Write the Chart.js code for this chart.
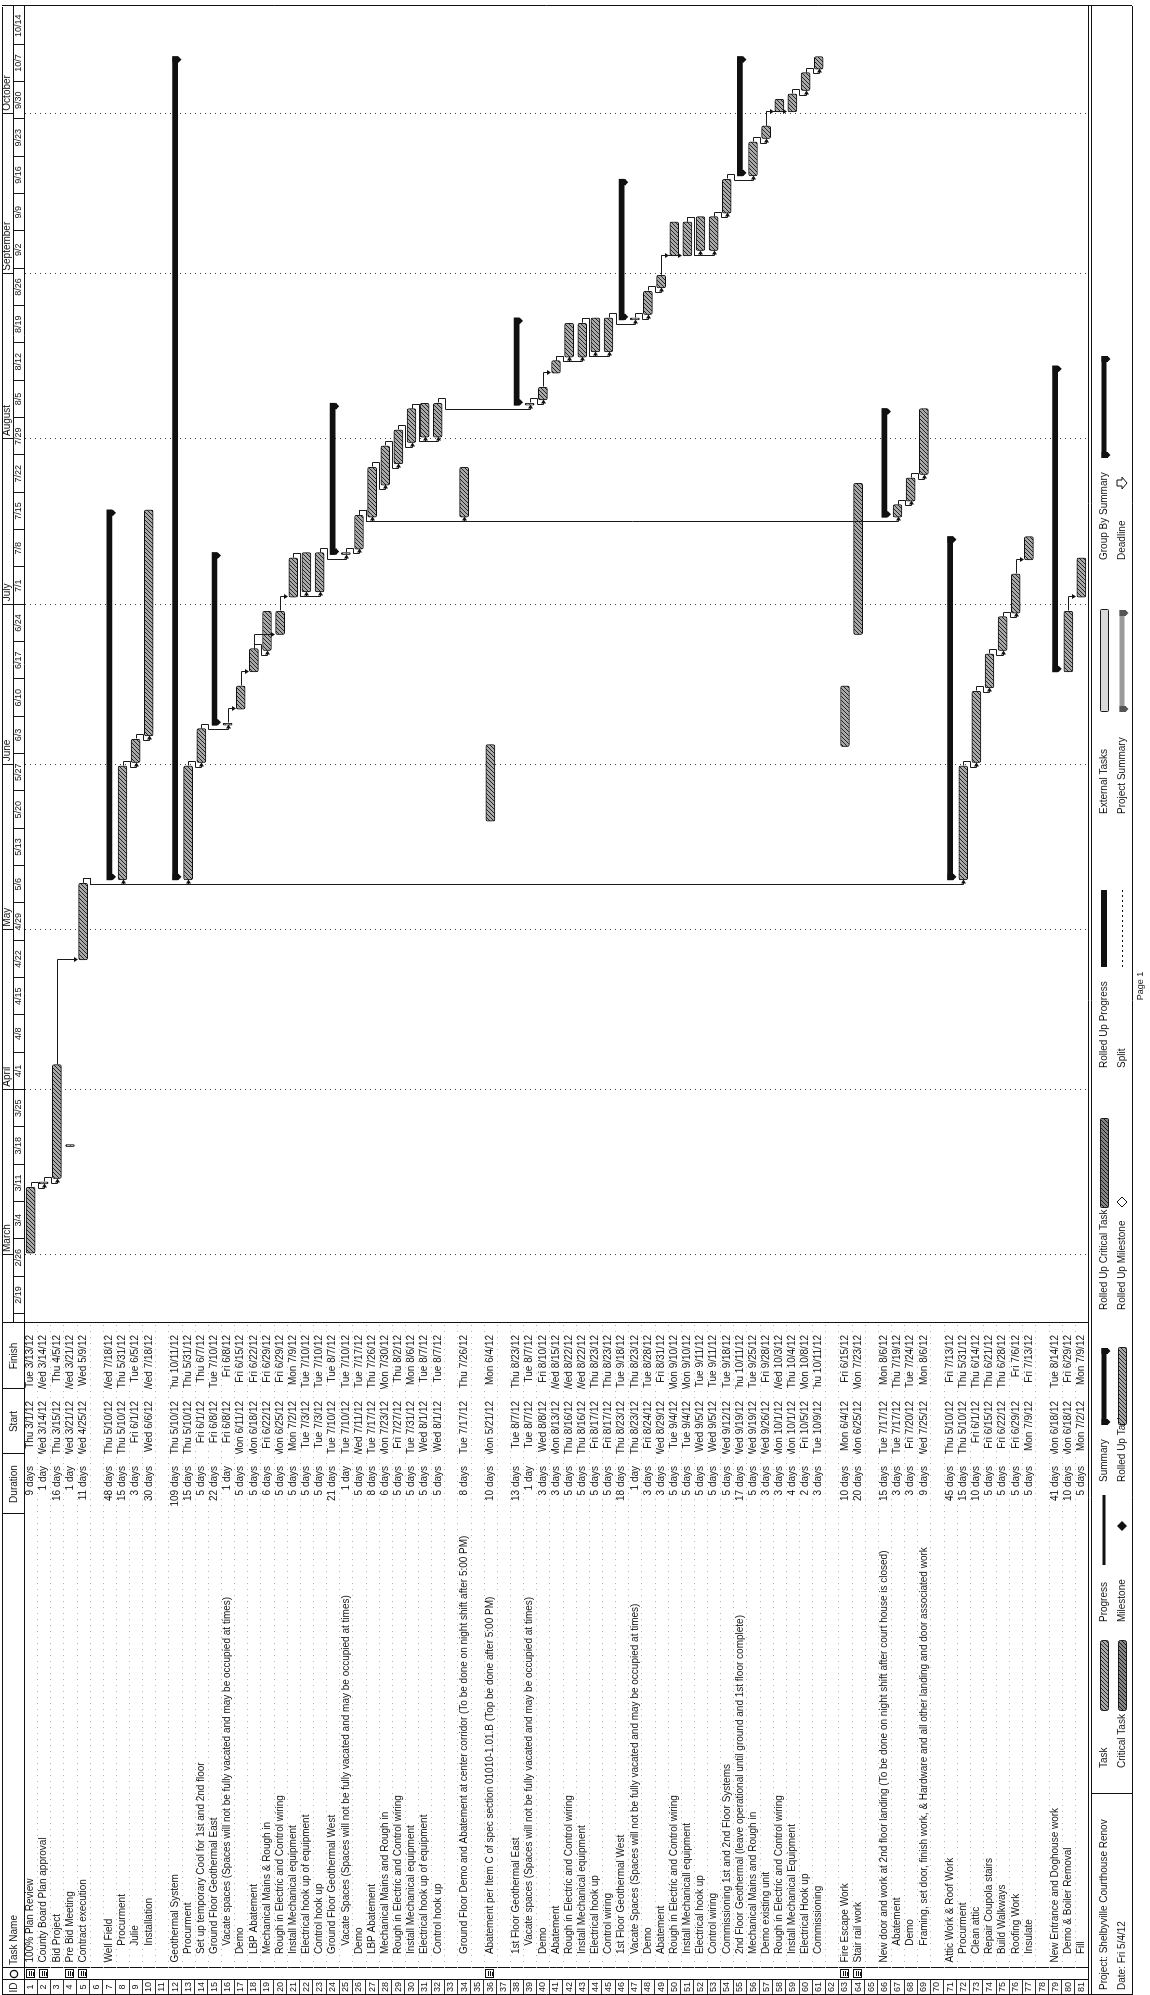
<!DOCTYPE html>
<html>
<head>
<meta charset="utf-8">
<title>Shelbyville Courthouse Renov - Schedule</title>
<script src="https://cdn.jsdelivr.net/npm/chart.js@4.4.1/dist/chart.umd.min.js"></script>
<style>
  html, body { margin: 0; padding: 0; background: #fff; width: 1150px; height: 1995px; overflow: hidden; }
  /* The printout is laid out landscape and turned a quarter turn on the portrait sheet */
  #sheet { position: absolute; left: 0; top: 0; width: 1995px; height: 1150px;
           transform-origin: 0 0; transform: translate(0px, 1995px) rotate(-90deg); }
  canvas { display: block; }
</style>
</head>
<body>
<div id="sheet"><canvas id="gantt" width="1995" height="1150"></canvas></div>
<script>
// ---- schedule table (one entry per row, IDs 1..81) ----
const taskNames = [
  '100% Plan Review', 'County Board Plan approval', 'Bid Project', 'Pre Bid Meeting', 'Contract execution', '',
  'Well Field', 'Procurment', 'Julie', 'Installation', '',
  'Geothermal System', 'Procurment', 'Set up temporary Cool for 1st and 2nd floor', 'Ground Floor Geothermal East',
  'Vacate spaces (Spaces will not be fully vacated and may be occupied at times)', 'Demo', 'LBP Abatement',
  'Mechanical Mains & Rough in', 'Rough in Electric and Control wiring', 'Install Mechanical equipment',
  'Electrical hook up of equipment', 'Control hook up', 'Ground Floor Geothermal West',
  'Vacate Spaces (Spaces will not be fully vacated and may be occupied at times)', 'Demo', 'LBP Abatement',
  'Mechanical Mains and Rough in', 'Rough in Electric and Control wiring', 'Install Mechanical equipment',
  'Electrical hook up of equipment', 'Control hook up', '',
  'Ground Floor Demo and Abatement at center corridor (To be done on night shift after 5:00 PM)', '',
  'Abatement per Item C of spec section 01010-1.01.B (Top be done after 5:00 PM)', '',
  '1st Floor Geothermal East', 'Vacate spaces (Spaces will not be fully vacated and may be occupied at times)',
  'Demo', 'Abatement', 'Rough in Electric and Control wiring', 'Install Mechanical equipment', 'Electrical hook up',
  'Control wiring', '1st Floor Geothermal West',
  'Vacate Spaces (Spaces will not be fully vacated and may be occupied at times)', 'Demo', 'Abatement',
  'Rough in Electric and Control wiring', 'Install Mechanicall equipment', 'Electrical hook up', 'Control wiring',
  'Commissioning 1st and 2nd Floor Systems',
  '2nd Floor Geothermal (leave operational until ground and 1st floor complete)', 'Mechanical Mains and Rough in',
  'Demo existing unit', 'Rough in Electric and Control wiring', 'Install Mechanical Equipment', 'Electrical Hook up',
  'Commissioning', '',
  'Fire Escape Work', 'Stair rail work', '',
  'New door and work at 2nd floor landing (To be done on night shift after court house is closed)', 'Abatement', 'Demo',
  'Framing, set door, finish work, & Hardware and all other landing and door associated work', '',
  'Attic Work & Roof Work', 'Procurment', 'Clean attic', 'Repair Coupola stairs', 'Build Walkways', 'Roofing Work',
  'Insulate', '',
  'New Entrance and Doghouse work', 'Demo & Boiler Removal', 'Fill'
];

const durations = [
  '9 days', '1 day', '16 days', '1 day', '11 days', '',
  '48 days', '15 days', '3 days', '30 days', '',
  '109 days', '15 days', '5 days', '22 days', '1 day', '5 days', '5 days', '6 days', '5 days', '5 days',
  '5 days', '5 days', '21 days', '1 day', '5 days', '8 days', '6 days', '5 days', '5 days', '5 days', '5 days', '',
  '8 days', '', '10 days', '',
  '13 days', '1 day', '3 days', '3 days', '5 days', '5 days', '5 days', '5 days',
  '18 days', '1 day', '3 days', '3 days', '5 days', '5 days', '5 days', '5 days', '5 days',
  '17 days', '5 days', '3 days', '3 days', '4 days', '2 days', '3 days', '',
  '10 days', '20 days', '',
  '15 days', '3 days', '3 days', '9 days', '',
  '45 days', '15 days', '10 days', '5 days', '5 days', '5 days', '5 days', '',
  '41 days', '10 days', '5 days'
];

const starts = [
  'Thu 3/1/12', 'Wed 3/14/12', 'Thu 3/15/12', 'Wed 3/21/12', 'Wed 4/25/12', '',
  'Thu 5/10/12', 'Thu 5/10/12', 'Fri 6/1/12', 'Wed 6/6/12', '',
  'Thu 5/10/12', 'Thu 5/10/12', 'Fri 6/1/12', 'Fri 6/8/12', 'Fri 6/8/12', 'Mon 6/11/12', 'Mon 6/18/12',
  'Fri 6/22/12', 'Mon 6/25/12', 'Mon 7/2/12', 'Tue 7/3/12', 'Tue 7/3/12',
  'Tue 7/10/12', 'Tue 7/10/12', 'Wed 7/11/12', 'Tue 7/17/12', 'Mon 7/23/12', 'Fri 7/27/12', 'Tue 7/31/12',
  'Wed 8/1/12', 'Wed 8/1/12', '',
  'Tue 7/17/12', '', 'Mon 5/21/12', '',
  'Tue 8/7/12', 'Tue 8/7/12', 'Wed 8/8/12', 'Mon 8/13/12', 'Thu 8/16/12', 'Thu 8/16/12', 'Fri 8/17/12', 'Fri 8/17/12',
  'Thu 8/23/12', 'Thu 8/23/12', 'Fri 8/24/12', 'Wed 8/29/12', 'Tue 9/4/12', 'Tue 9/4/12', 'Wed 9/5/12', 'Wed 9/5/12',
  'Wed 9/12/12',
  'Wed 9/19/12', 'Wed 9/19/12', 'Wed 9/26/12', 'Mon 10/1/12', 'Mon 10/1/12', 'Fri 10/5/12', 'Tue 10/9/12', '',
  'Mon 6/4/12', 'Mon 6/25/12', '',
  'Tue 7/17/12', 'Tue 7/17/12', 'Fri 7/20/12', 'Wed 7/25/12', '',
  'Thu 5/10/12', 'Thu 5/10/12', 'Fri 6/1/12', 'Fri 6/15/12', 'Fri 6/22/12', 'Fri 6/29/12', 'Mon 7/9/12', '',
  'Mon 6/18/12', 'Mon 6/18/12', 'Mon 7/2/12'
];

const finishes = [
  'Tue 3/13/12', 'Wed 3/14/12', 'Thu 4/5/12', 'Wed 3/21/12', 'Wed 5/9/12', '',
  'Wed 7/18/12', 'Thu 5/31/12', 'Tue 6/5/12', 'Wed 7/18/12', '',
  'Thu 10/11/12', 'Thu 5/31/12', 'Thu 6/7/12', 'Tue 7/10/12', 'Fri 6/8/12', 'Fri 6/15/12', 'Fri 6/22/12',
  'Fri 6/29/12', 'Fri 6/29/12', 'Mon 7/9/12', 'Tue 7/10/12', 'Tue 7/10/12',
  'Tue 8/7/12', 'Tue 7/10/12', 'Tue 7/17/12', 'Thu 7/26/12', 'Mon 7/30/12', 'Thu 8/2/12', 'Mon 8/6/12',
  'Tue 8/7/12', 'Tue 8/7/12', '',
  'Thu 7/26/12', '', 'Mon 6/4/12', '',
  'Thu 8/23/12', 'Tue 8/7/12', 'Fri 8/10/12', 'Wed 8/15/12', 'Wed 8/22/12', 'Wed 8/22/12', 'Thu 8/23/12', 'Thu 8/23/12',
  'Tue 9/18/12', 'Thu 8/23/12', 'Tue 8/28/12', 'Fri 8/31/12', 'Mon 9/10/12', 'Mon 9/10/12', 'Tue 9/11/12', 'Tue 9/11/12',
  'Tue 9/18/12',
  'Thu 10/11/12', 'Tue 9/25/12', 'Fri 9/28/12', 'Wed 10/3/12', 'Thu 10/4/12', 'Mon 10/8/12', 'Thu 10/11/12', '',
  'Fri 6/15/12', 'Mon 7/23/12', '',
  'Mon 8/6/12', 'Thu 7/19/12', 'Tue 7/24/12', 'Mon 8/6/12', '',
  'Fri 7/13/12', 'Thu 5/31/12', 'Thu 6/14/12', 'Thu 6/21/12', 'Thu 6/28/12', 'Fri 7/6/12', 'Fri 7/13/12', '',
  'Tue 8/14/12', 'Fri 6/29/12', 'Mon 7/9/12'
];

// indent level of each task name as listed
const outlineLevel = [
  0, 0, 0, 0, 0, 0,
  0, 2, 2, 2, 0,
  0, 1, 1, 1, 2, 1, 1, 1, 1, 1, 1, 1, 1, 2, 1, 1, 1, 1, 1, 1, 1, 0,
  1, 0, 1, 0,
  1, 2, 1, 1, 1, 1, 1, 1, 1, 1, 1, 1, 1, 1, 1, 1, 1,
  1, 1, 1, 1, 1, 1, 1, 0,
  0, 0, 0,
  0, 2, 2, 2, 0,
  0, 1, 1, 1, 1, 1, 1, 0,
  0, 1, 1
];

const summaryRows = [7, 12, 15, 24, 38, 46, 55, 66, 71, 79];
const noteRows = [1, 2, 4, 5, 36, 63, 64];

// predecessor -> successor (row IDs)
const links = [
  [1, 2], [2, 3], [3, 5], [5, 8], [5, 13], [5, 72], [8, 9], [9, 10],
  [13, 14], [14, 16], [16, 17], [17, 18], [18, 19], [18, 20], [20, 21], [21, 22], [21, 23], [23, 25],
  [25, 26], [26, 27], [26, 34], [26, 67], [27, 28], [28, 29], [29, 30], [30, 31], [30, 32], [32, 39],
  [39, 40], [40, 41], [41, 42], [41, 43], [43, 44], [43, 45], [45, 47], [47, 48], [48, 49], [49, 50],
  [49, 51], [51, 52], [51, 53], [53, 54], [54, 56], [56, 57], [57, 58], [57, 59], [59, 60], [60, 61],
  [67, 68], [68, 69], [72, 73], [73, 74], [74, 75], [75, 76], [76, 77], [80, 81]
];

// timescale
const weekLabels = ['2/19', '2/26', '3/4', '3/11', '3/18', '3/25', '4/1', '4/8', '4/15', '4/22', '4/29',
  '5/6', '5/13', '5/20', '5/27', '6/3', '6/10', '6/17', '6/24', '7/1', '7/8', '7/15', '7/22', '7/29',
  '8/5', '8/12', '8/19', '8/26', '9/2', '9/9', '9/16', '9/23', '9/30', '10/7', '10/14'];
const monthLabels = ['March', 'April', 'May', 'June', 'July', 'August', 'September', 'October'];
const monthFirstDays = ['3/1', '4/1', '5/1', '6/1', '7/1', '8/1', '9/1', '10/1'];

const headerLabels = ['ID', '', 'Task Name', 'Duration', 'Start', 'Finish'];
const projectInfo = ['Project: Shelbyville Courthouse Renov', 'Date: Fri 5/4/12'];
const legendTop = ['Task', 'Progress', 'Summary', 'Rolled Up Critical Task', 'Rolled Up Progress', 'External Tasks', 'Group By Summary'];
const legendBottom = ['Critical Task', 'Milestone', 'Rolled Up Task', 'Rolled Up Milestone', 'Split', 'Project Summary', 'Deadline'];
const pageLabel = 'Page 1';

// ---- helpers ----
const YEAR_BASE = Date.UTC(2012, 0, 1);
function dayNum(text) {
  const m = text.match(/(\d+)\/(\d+)(?:\/(\d+))?/);
  const yy = m[3] ? 2000 + Number(m[3]) : 2012;
  return (Date.UTC(yy, Number(m[1]) - 1, Number(m[2])) - YEAR_BASE) / 864e5;
}
const WORK_START = 8 / 24, WORK_END = 17 / 24;
const rowIds = taskNames.map((_, i) => String(i + 1));
const isSummary = i => summaryRows.includes(i + 1);
const spanOf = i => [dayNum(starts[i]) + WORK_START, dayNum(finishes[i]) + WORK_END];
const taskSpans = taskNames.map((_, i) => (starts[i] && !isSummary(i)) ? spanOf(i) : null);
const summarySpans = taskNames.map((_, i) => (starts[i] && isSummary(i)) ? spanOf(i) : null);

// view window and page geometry
const X_MIN = dayNum('2/17/12') + 0.25;
const X_MAX = dayNum('10/21/12');
const COL_W = { id: 15, note: 12, name: 454, dur: 60, start: 65, finish: 66 };
const PAD = { left: 0, right: 7, top: 2, bottom: 62 };
const TIER_H = 11;
const plotWidth = 1995 - PAD.left - PAD.right - Object.values(COL_W).reduce((a, b) => a + b, 0);
const PX_PER_DAY = plotWidth / (X_MAX - X_MIN);

const FONT = "'Liberation Sans', Arial, Helvetica, sans-serif";
Chart.defaults.font.family = FONT;
Chart.defaults.font.size = 10;
Chart.defaults.color = '#151515';

// stippled fill used by the task bars
function makeHatch(bg, fg) {
  const c = document.createElement('canvas');
  c.width = 4; c.height = 4;
  const g = c.getContext('2d');
  g.fillStyle = bg; g.fillRect(0, 0, 4, 4);
  g.fillStyle = fg;
  g.fillRect(0, 3, 1, 1); g.fillRect(1, 2, 1, 1); g.fillRect(2, 1, 1, 1); g.fillRect(3, 0, 1, 1);
  return g.createPattern(c, 'repeat');
}
const taskFill = makeHatch('#a9a9a9', '#262626');
const taskFillDark = makeHatch('#858585', '#1c1c1c');

// ---- drawing helpers for plugins ----
function hLine(ctx, x1, x2, y) { ctx.beginPath(); ctx.moveTo(x1, Math.round(y) + 0.5); ctx.lineTo(x2, Math.round(y) + 0.5); ctx.stroke(); }
function vLine(ctx, x, y1, y2) { ctx.beginPath(); ctx.moveTo(Math.round(x) + 0.5, y1); ctx.lineTo(Math.round(x) + 0.5, y2); ctx.stroke(); }
function summaryCap(ctx, x, yTop, yBot) {
  ctx.beginPath();
  ctx.moveTo(x - 3, yTop); ctx.lineTo(x + 3, yTop); ctx.lineTo(x + 3, yBot + 1);
  ctx.lineTo(x, yBot + 4); ctx.lineTo(x - 3, yBot + 1); ctx.closePath(); ctx.fill();
}
function barSwatch(ctx, x, y, w, h, fill, radius) {
  ctx.save();
  ctx.fillStyle = fill; ctx.strokeStyle = '#1a1a1a'; ctx.lineWidth = 1;
  ctx.beginPath();
  if (ctx.roundRect) ctx.roundRect(x + 0.5, y + 0.5, w, h, radius || 0); else ctx.rect(x + 0.5, y + 0.5, w, h);
  ctx.fill(); ctx.stroke(); ctx.restore();
}

// table header, frames, row rules and note icons
const tablePlugin = {
  id: 'tableDecor',
  beforeDatasetsDraw(chart) {
    const { ctx, scales } = chart;
    const y = scales.y;
    ctx.save();
    ctx.strokeStyle = '#b5b5b5';
    ctx.setLineDash([1, 5]);
    ctx.lineWidth = 1;
    for (let i = 1; i < taskNames.length; i++) {
      const yy = (y.getPixelForValue(i - 1) + y.getPixelForValue(i)) / 2;
      hLine(ctx, scales.yName.left, scales.yFinish.right, yy);
    }
    ctx.restore();
  },
  afterDraw(chart) {
    const { ctx, chartArea: ca, scales } = chart;
    const cols = ['yId', 'yNote', 'yName', 'yDur', 'yStart', 'yFinish'].map(k => scales[k]);
    const top = PAD.top;
    ctx.save();
    ctx.strokeStyle = '#111';
    ctx.lineWidth = 1;
    // header cells of the table
    cols.forEach(s => vLine(ctx, s.right, top, ca.top));
    hLine(ctx, 0, ca.right, top);
    hLine(ctx, 0, cols[5].right, ca.top);
    ctx.fillStyle = '#151515';
    ctx.font = '10px ' + FONT;
    ctx.textBaseline = 'middle';
    const hy = (top + ca.top) / 2 + 1;
    headerLabels.forEach((t, k) => {
      if (!t) return;
      const s = cols[k];
      if (k === 2) { ctx.textAlign = 'left'; ctx.fillText(t, s.left + 3, hy); }
      else { ctx.textAlign = 'center'; ctx.fillText(t, (s.left + s.right) / 2, hy); }
    });
    // indicator column header glyph
    const nc = (cols[1].left + cols[1].right) / 2;
    ctx.beginPath(); ctx.arc(nc, hy, 3.6, 0, Math.PI * 2); ctx.lineWidth = 1.4; ctx.stroke();
    ctx.lineWidth = 1;
    // note icons in the indicator column
    noteRows.forEach(r => {
      const yy = Math.round(scales.y.getPixelForValue(r - 1));
      const x0 = Math.round(nc - 4);
      ctx.strokeRect(x0 + 0.5, yy - 4.5, 8, 8);
      hLine(ctx, x0 + 2, x0 + 7, yy - 2);
      hLine(ctx, x0 + 2, x0 + 7, yy);
      hLine(ctx, x0 + 2, x0 + 6, yy + 2);
    });
    // outer frame of table and chart
    vLine(ctx, 0, top, ca.bottom + 3);
    vLine(ctx, ca.right + 1, top, ca.bottom + 3);
    hLine(ctx, 0, ca.right + 1, ca.bottom);
    hLine(ctx, 0, ca.right + 1, ca.bottom + 3);
    ctx.restore();
  }
};

// dependency links and summary end caps
const linkPlugin = {
  id: 'ganttLinks',
  afterDatasetsDraw(chart) {
    const ctx = chart.ctx;
    const ys = chart.scales.y;
    const rowH = ys.getPixelForValue(1) - ys.getPixelForValue(0);
    const barOf = row => {
      for (let d = 0; d < chart.data.datasets.length; d++) {
        if (chart.data.datasets[d].data[row - 1]) {
          const e = chart.getDatasetMeta(d).data[row - 1];
          return { x0: Math.min(e.base, e.x), x1: Math.max(e.base, e.x), y: e.y, h: e.height / 2 };
        }
      }
      return null;
    };
    ctx.save();
    // summary caps
    ctx.fillStyle = '#101010';
    const sm = chart.getDatasetMeta(1);
    summarySpans.forEach((v, i) => {
      if (!v) return;
      const e = sm.data[i];
      const yTop = e.y - e.height / 2, yBot = e.y + e.height / 2;
      summaryCap(ctx, Math.min(e.base, e.x) + 3, yTop, yBot);
      summaryCap(ctx, Math.max(e.base, e.x) - 3, yTop, yBot);
    });
    // links
    ctx.strokeStyle = '#1b1b1b';
    ctx.lineWidth = 1;
    links.forEach(([p, s]) => {
      const a = barOf(p), b = barOf(s);
      if (!a || !b) return;
      const x1 = Math.round(a.x1) + 0.5, y1 = Math.round(a.y) + 0.5;
      const x2 = Math.round(b.x0) + 0.5, y2 = Math.round(b.y) + 0.5;
      ctx.beginPath();
      if (x2 >= x1 + 5) {
        const yEnd = y2 - b.h - 1;
        ctx.moveTo(x1, y1); ctx.lineTo(x2, y1); ctx.lineTo(x2, yEnd - 3); ctx.stroke();
        ctx.beginPath(); ctx.moveTo(x2 - 2.5, yEnd - 4); ctx.lineTo(x2 + 2.5, yEnd - 4); ctx.lineTo(x2, yEnd); ctx.closePath(); ctx.fill();
      } else {
        const xa = x1 + 4, ym = Math.round(y1 + rowH / 2) + 0.5, xb = x2 - 5;
        ctx.moveTo(x1, y1); ctx.lineTo(xa, y1); ctx.lineTo(xa, ym); ctx.lineTo(xb, ym); ctx.lineTo(xb, y2); ctx.lineTo(x2 - 3, y2); ctx.stroke();
        ctx.beginPath(); ctx.moveTo(x2 - 4, y2 - 2.5); ctx.lineTo(x2 - 4, y2 + 2.5); ctx.lineTo(x2, y2); ctx.closePath(); ctx.fill();
      }
    });
    ctx.restore();
  }
};

// legend block printed beneath the chart
const legendPlugin = {
  id: 'printLegend',
  afterDraw(chart) {
    const { ctx, chartArea: ca } = chart;
    const boxTop = ca.bottom + 3, boxBot = ca.bottom + 44;
    const r1 = boxTop + 13, r2 = boxTop + 31;
    ctx.save();
    ctx.strokeStyle = '#111'; ctx.lineWidth = 1;
    hLine(ctx, 0, ca.right + 1, boxBot);
    vLine(ctx, 0, boxTop, boxBot);
    vLine(ctx, ca.right + 1, boxTop, boxBot);
    vLine(ctx, 201, boxTop, boxBot);
    ctx.fillStyle = '#151515';
    ctx.font = '10px ' + FONT;
    ctx.textBaseline = 'middle';
    ctx.textAlign = 'left';
    ctx.fillText(projectInfo[0], 5, r1);
    ctx.fillText(projectInfo[1], 5, r2);
    const labelX = [227, 373, 513, 685, 927, 1181, 1435];
    legendTop.forEach((t, k) => ctx.fillText(t, labelX[k], r1));
    legendBottom.forEach((t, k) => ctx.fillText(t, labelX[k], r2));
    // swatches
    barSwatch(ctx, 284, r1 - 4, 70, 8, taskFill, 2);
    barSwatch(ctx, 284, r2 - 4, 70, 8, taskFillDark, 2);
    ctx.fillStyle = '#111'; ctx.fillRect(430, r1 - 1.5, 70, 3);
    ctx.beginPath(); ctx.moveTo(469, r2 - 5); ctx.lineTo(474, r2); ctx.lineTo(469, r2 + 5); ctx.lineTo(464, r2); ctx.closePath(); ctx.fill();
    ctx.fillRect(570, r1 - 2.5, 77, 5); summaryCap(ctx, 573, r1 - 2.5, r1 + 2.5); summaryCap(ctx, 644, r1 - 2.5, r1 + 2.5);
    barSwatch(ctx, 570, r2 - 4, 77, 8, taskFill, 1);
    barSwatch(ctx, 787, r1 - 4, 89, 8, taskFillDark, 1);
    ctx.beginPath(); ctx.moveTo(793, r2 - 5); ctx.lineTo(798, r2); ctx.lineTo(793, r2 + 5); ctx.lineTo(788, r2); ctx.closePath(); ctx.stroke();
    ctx.fillStyle = '#111'; ctx.fillRect(1028, r1 - 3, 77, 6);
    ctx.setLineDash([2, 3]); hLine(ctx, 1028, 1105, r2); ctx.setLineDash([]);
    barSwatch(ctx, 1283, r1 - 4, 102, 8, '#d9d9d9', 1);
    ctx.fillStyle = '#9a9a9a'; ctx.fillRect(1283, r2 - 2.5, 102, 5);
    ctx.fillStyle = '#555'; summaryCap(ctx, 1286, r2 - 2.5, r2 + 2.5); summaryCap(ctx, 1382, r2 - 2.5, r2 + 2.5);
    ctx.fillStyle = '#111'; ctx.fillRect(1537, r1 - 2.5, 102, 5); summaryCap(ctx, 1540, r1 - 2.5, r1 + 2.5); summaryCap(ctx, 1636, r1 - 2.5, r1 + 2.5);
    // deadline arrow
    ctx.beginPath();
    ctx.moveTo(1509, r2 - 5); ctx.lineTo(1515, r2 - 5); ctx.lineTo(1515, r2); ctx.lineTo(1518, r2);
    ctx.lineTo(1512, r2 + 5); ctx.lineTo(1506, r2); ctx.lineTo(1509, r2); ctx.closePath(); ctx.stroke();
    // page footer
    ctx.fillStyle = '#151515';
    ctx.font = '9px ' + FONT;
    ctx.textAlign = 'center';
    ctx.fillText(pageLabel, 1009, boxBot + 9);
    ctx.restore();
  }
};

function leftColumn(weight, width, labels, extra) {
  return Object.assign({
    type: 'category', position: 'left', weight, labels, offset: true,
    afterFit: s => { s.width = width; },
    grid: { display: false, offset: true },
    border: { display: false },
    ticks: { autoSkip: false, font: { size: 10 }, color: '#151515', padding: 4, crossAlign: 'near' }
  }, extra || {});
}

new Chart(document.getElementById('gantt'), {
  type: 'bar',
  data: {
    labels: rowIds,
    datasets: [
      { label: 'Task', data: taskSpans, backgroundColor: taskFill, borderColor: '#111', borderWidth: 1,
        borderRadius: 2, borderSkipped: false, barThickness: 9, grouped: false, xAxisID: 'x', yAxisID: 'y' },
      { label: 'Summary', data: summarySpans, backgroundColor: '#101010', borderWidth: 0,
        barThickness: 5, grouped: false, xAxisID: 'x', yAxisID: 'y' }
    ]
  },
  options: {
    indexAxis: 'y',
    responsive: false,
    animation: false,
    devicePixelRatio: 1,
    layout: { padding: PAD },
    plugins: { legend: { display: false }, tooltip: { enabled: false } },
    scales: {
      x: {
        type: 'linear', position: 'top', weight: 0, min: X_MIN, max: X_MAX, bounds: 'data',
        afterBuildTicks: s => { s.ticks = weekLabels.map(l => ({ value: dayNum(l) })); },
        afterFit: s => { s.height = TIER_H; },
        ticks: { autoSkip: false, maxRotation: 0, minRotation: 0, font: { size: 9 }, color: '#151515',
                 labelOffset: 3.5 * PX_PER_DAY, padding: -10.5, callback: (v, i) => weekLabels[i] },
        grid: { drawOnChartArea: false, drawTicks: true, tickLength: TIER_H, tickColor: '#1a1a1a' },
        border: { display: true, color: '#111' }
      },
      xMonth: {
        type: 'linear', position: 'top', weight: 1, min: X_MIN, max: X_MAX, bounds: 'data',
        afterBuildTicks: s => { s.ticks = monthFirstDays.map(d => ({ value: dayNum(d) })); },
        afterFit: s => { s.height = TIER_H; },
        ticks: { autoSkip: false, maxRotation: 0, minRotation: 0, align: 'start', labelOffset: 3,
                 font: { size: 10 }, color: '#151515', padding: -11.5, callback: (v, i) => monthLabels[i] },
        grid: { drawOnChartArea: true, color: '#444', lineWidth: 1,
                drawTicks: true, tickLength: TIER_H, tickColor: '#1a1a1a', tickBorderDash: [] },
        border: { display: true, color: '#111', dash: [1, 4] }
      },
      y: { type: 'category', display: false, offset: true, grid: { offset: true } },
      yId: leftColumn(5, COL_W.id, rowIds, {
        grid: { display: true, offset: true, drawOnChartArea: false, drawTicks: true, tickLength: COL_W.id, color: '#333' },
        border: { display: true, color: '#111' },
        ticks: { autoSkip: false, font: { size: 9 }, color: '#151515', padding: -13, crossAlign: 'center' }
      }),
      yNote: leftColumn(4, COL_W.note, rowIds.map(() => ''), { border: { display: true, color: '#111' } }),
      yName: leftColumn(3, COL_W.name, taskNames, {
        ticks: { autoSkip: false, font: { size: 10 }, color: '#151515', crossAlign: 'far',
                 callback: (v, i) => '  ' + '   '.repeat(outlineLevel[i]) + taskNames[i] }
      }),
      yDur: leftColumn(2, COL_W.dur, durations),
      yStart: leftColumn(1, COL_W.start, starts),
      yFinish: leftColumn(0, COL_W.finish, finishes, { border: { display: true, color: '#111' } })
    }
  },
  plugins: [tablePlugin, linkPlugin, legendPlugin]
});
</script>
</body>
</html>
